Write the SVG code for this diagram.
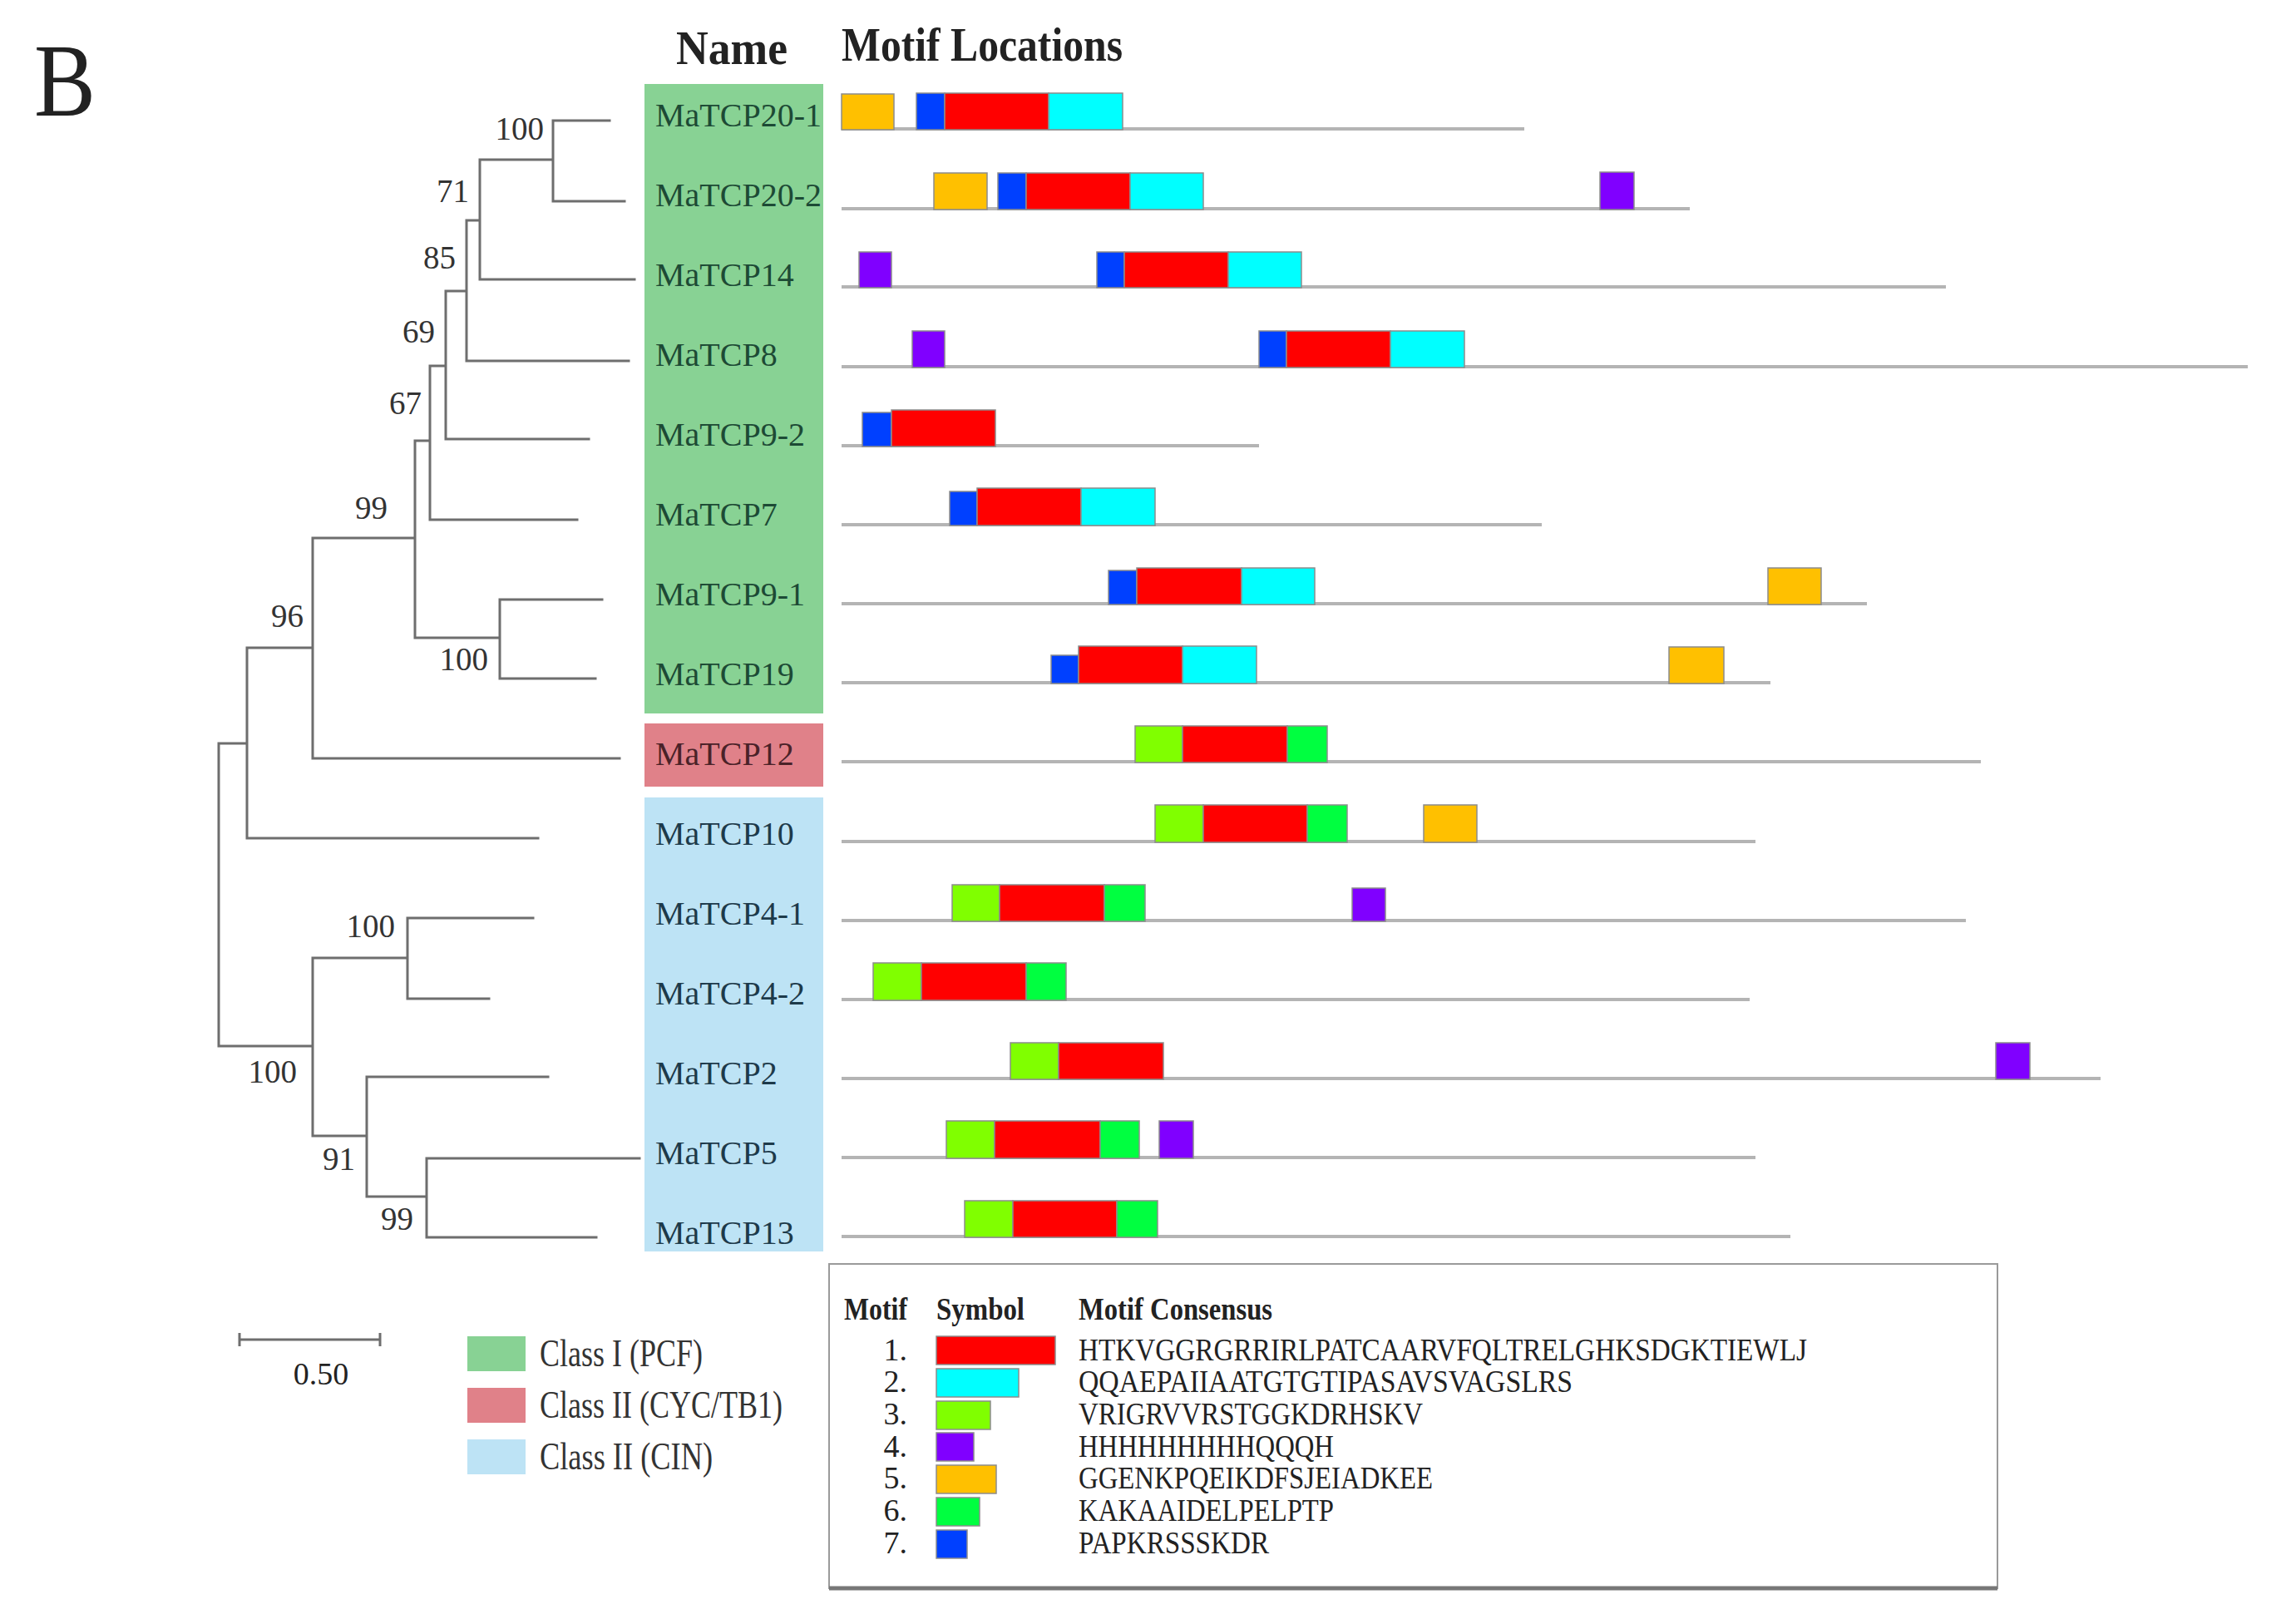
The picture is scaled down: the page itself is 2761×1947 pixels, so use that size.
<svg xmlns="http://www.w3.org/2000/svg" width="2761" height="1947" viewBox="0 0 2761 1947">
<style>
text{font-family:"Liberation Serif","Times New Roman",serif;fill:#222}
.tree{stroke:#6e6e6e;stroke-width:3;fill:none;stroke-linecap:square}
.bs{font-size:39px;text-anchor:end;fill:#333}
.nm{font-size:40px}
.ng{fill:#1d4a35}
.np{fill:#4a2228}
.nb{fill:#1d3a4a}
.trk{stroke:#b4b4b4;stroke-width:4}
.mb rect,.sym rect{stroke:#8c8c8c;stroke-width:1.5}
.m1{fill:#ff0000}.m2{fill:#00ffff}.m3{fill:#80ff00}.m4{fill:#8000ff}.m5{fill:#ffc000}.m6{fill:#00ff40}.m7{fill:#0040ff}
.hd{font-weight:bold}
.lg{font-size:38px}
.cl{font-size:46px;fill:#333}
</style>
<rect width="2761" height="1947" fill="#ffffff"/>
<text x="41" y="139" font-size="124" textLength="74" lengthAdjust="spacingAndGlyphs">B</text>
<text class="hd" x="813" y="77" font-size="56" textLength="134" lengthAdjust="spacingAndGlyphs">Name</text>
<text class="hd" x="1012" y="73" font-size="56" textLength="338" lengthAdjust="spacingAndGlyphs">Motif Locations</text>

<g id="class-boxes">
<rect x="775" y="101" width="215" height="757" fill="#88d294"/>
<rect x="775" y="870" width="215" height="76" fill="#e08189"/>
<rect x="775" y="959" width="215" height="546" fill="#bde3f5"/>
</g>

<g id="connectors">
<path class="tree" d="M665 145H733 M665 242H751 M577 336H763 M561 434H756 M536 528H708 M517 625H694 M601 721H724 M601 816H716 M376 912H745 M297 1008H647 M490 1104H641 M490 1201H588 M441 1295H659 M513 1393H769 M513 1488H717
M665 145V242 M577 192V336 M561 265V434 M536 350V528 M517 440V625 M601 721V816 M499 530V767 M376 647V912 M297 779V1008 M490 1104V1201 M513 1393V1488 M441 1295V1439 M376 1152V1366 M263 894V1258
M577 192H665 M561 265H577 M536 350H561 M517 440H536 M499 530H517 M499 767H601 M376 647H499 M297 779H376 M263 894H297 M376 1152H490 M441 1439H513 M376 1366H441 M263 1258H376"/>
<g id="bootstrap">
<text class="bs" x="654" y="168">100</text>
<text class="bs" x="564" y="243">71</text>
<text class="bs" x="548" y="323">85</text>
<text class="bs" x="523" y="412">69</text>
<text class="bs" x="507" y="498">67</text>
<text class="bs" x="466" y="624">99</text>
<text class="bs" x="365" y="754">96</text>
<text class="bs" x="587" y="806">100</text>
<text class="bs" x="475" y="1127">100</text>
<text class="bs" x="357" y="1302">100</text>
<text class="bs" x="427" y="1407">91</text>
<text class="bs" x="497" y="1479">99</text>
</g>
</g>

<g id="MaTCP20-1"><text class="nm ng" x="788" y="152">MaTCP20-1</text>
<line class="trk" x1="1012" y1="155" x2="1833" y2="155"/>
<g class="mb"><rect class="m5" x="1012" y="113" width="63" height="43"/><rect class="m7" x="1102" y="112" width="34" height="44"/><rect class="m1" x="1136" y="112" width="125" height="44"/><rect class="m2" x="1261" y="112" width="89" height="44"/></g></g>

<g id="MaTCP20-2"><text class="nm ng" x="788" y="248">MaTCP20-2</text>
<line class="trk" x1="1012" y1="251" x2="2032" y2="251"/>
<g class="mb"><rect class="m5" x="1123" y="208" width="64" height="44"/><rect class="m7" x="1200" y="208" width="34" height="44"/><rect class="m1" x="1234" y="208" width="125" height="44"/><rect class="m2" x="1359" y="208" width="88" height="44"/><rect class="m4" x="1924" y="207" width="41" height="45"/></g></g>

<g id="MaTCP14"><text class="nm ng" x="788" y="344">MaTCP14</text>
<line class="trk" x1="1012" y1="345" x2="2340" y2="345"/>
<g class="mb"><rect class="m4" x="1033" y="303" width="39" height="43"/><rect class="m7" x="1319" y="303" width="33" height="43"/><rect class="m1" x="1352" y="303" width="125" height="43"/><rect class="m2" x="1477" y="303" width="88" height="43"/></g></g>

<g id="MaTCP8"><text class="nm ng" x="788" y="440">MaTCP8</text>
<line class="trk" x1="1012" y1="441" x2="2703" y2="441"/>
<g class="mb"><rect class="m4" x="1097" y="398" width="39" height="44"/><rect class="m7" x="1514" y="398" width="33" height="44"/><rect class="m1" x="1547" y="398" width="125" height="44"/><rect class="m2" x="1672" y="398" width="89" height="44"/></g></g>

<g id="MaTCP9-2"><text class="nm ng" x="788" y="536">MaTCP9-2</text>
<line class="trk" x1="1012" y1="536" x2="1514" y2="536"/>
<g class="mb"><rect class="m7" x="1037" y="496" width="35" height="41"/><rect class="m1" x="1072" y="493" width="125" height="44"/></g></g>

<g id="MaTCP7"><text class="nm ng" x="788" y="632">MaTCP7</text>
<line class="trk" x1="1012" y1="631" x2="1854" y2="631"/>
<g class="mb"><rect class="m7" x="1142" y="591" width="33" height="41"/><rect class="m1" x="1175" y="587" width="125" height="45"/><rect class="m2" x="1300" y="587" width="89" height="45"/></g></g>

<g id="MaTCP9-1"><text class="nm ng" x="788" y="728">MaTCP9-1</text>
<line class="trk" x1="1012" y1="726" x2="2245" y2="726"/>
<g class="mb"><rect class="m7" x="1333" y="686" width="34" height="41"/><rect class="m1" x="1367" y="683" width="126" height="44"/><rect class="m2" x="1493" y="683" width="88" height="44"/><rect class="m5" x="2126" y="683" width="64" height="44"/></g></g>

<g id="MaTCP19"><text class="nm ng" x="788" y="824">MaTCP19</text>
<line class="trk" x1="1012" y1="821" x2="2129" y2="821"/>
<g class="mb"><rect class="m7" x="1264" y="788" width="33" height="34"/><rect class="m1" x="1297" y="777" width="125" height="45"/><rect class="m2" x="1422" y="777" width="89" height="45"/><rect class="m5" x="2007" y="778" width="66" height="44"/></g></g>

<g id="MaTCP12"><text class="nm np" x="788" y="920">MaTCP12</text>
<line class="trk" x1="1012" y1="916" x2="2382" y2="916"/>
<g class="mb"><rect class="m3" x="1365" y="873" width="57" height="44"/><rect class="m1" x="1422" y="873" width="126" height="44"/><rect class="m6" x="1548" y="873" width="48" height="44"/></g></g>

<g id="MaTCP10"><text class="nm nb" x="788" y="1016">MaTCP10</text>
<line class="trk" x1="1012" y1="1012" x2="2111" y2="1012"/>
<g class="mb"><rect class="m3" x="1389" y="968" width="58" height="45"/><rect class="m1" x="1447" y="968" width="125" height="45"/><rect class="m6" x="1572" y="968" width="48" height="45"/><rect class="m5" x="1712" y="968" width="64" height="45"/></g></g>

<g id="MaTCP4-1"><text class="nm nb" x="788" y="1112">MaTCP4-1</text>
<line class="trk" x1="1012" y1="1107" x2="2364" y2="1107"/>
<g class="mb"><rect class="m3" x="1145" y="1064" width="57" height="44"/><rect class="m1" x="1202" y="1064" width="126" height="44"/><rect class="m6" x="1328" y="1064" width="49" height="44"/><rect class="m4" x="1626" y="1068" width="40" height="40"/></g></g>

<g id="MaTCP4-2"><text class="nm nb" x="788" y="1208">MaTCP4-2</text>
<line class="trk" x1="1012" y1="1202" x2="2104" y2="1202"/>
<g class="mb"><rect class="m3" x="1050" y="1158" width="58" height="45"/><rect class="m1" x="1108" y="1158" width="126" height="45"/><rect class="m6" x="1234" y="1158" width="48" height="45"/></g></g>

<g id="MaTCP2"><text class="nm nb" x="788" y="1304">MaTCP2</text>
<line class="trk" x1="1012" y1="1297" x2="2526" y2="1297"/>
<g class="mb"><rect class="m3" x="1215" y="1254" width="58" height="44"/><rect class="m1" x="1273" y="1254" width="126" height="44"/><rect class="m4" x="2400" y="1254" width="41" height="44"/></g></g>

<g id="MaTCP5"><text class="nm nb" x="788" y="1400">MaTCP5</text>
<line class="trk" x1="1012" y1="1392" x2="2111" y2="1392"/>
<g class="mb"><rect class="m3" x="1138" y="1348" width="58" height="45"/><rect class="m1" x="1196" y="1348" width="127" height="45"/><rect class="m6" x="1323" y="1348" width="47" height="45"/><rect class="m4" x="1394" y="1348" width="41" height="45"/></g></g>

<g id="MaTCP13"><text class="nm nb" x="788" y="1496">MaTCP13</text>
<line class="trk" x1="1012" y1="1487" x2="2153" y2="1487"/>
<g class="mb"><rect class="m3" x="1160" y="1444" width="58" height="44"/><rect class="m1" x="1218" y="1444" width="125" height="44"/><rect class="m6" x="1343" y="1444" width="49" height="44"/></g></g>

<g id="scale-bar">
<path d="M288 1611H457 M288 1603V1619 M457 1603V1619" stroke="#6e6e6e" stroke-width="3" fill="none"/>
<text x="386" y="1665" font-size="38" text-anchor="middle" fill="#333">0.50</text>
</g>

<g id="class-legend">
<rect x="562" y="1607" width="70" height="42" fill="#88d294"/>
<rect x="562" y="1669" width="70" height="42" fill="#e08189"/>
<rect x="562" y="1731" width="70" height="42" fill="#bde3f5"/>
<text class="cl" x="649" y="1643" textLength="196" lengthAdjust="spacingAndGlyphs">Class I (PCF)</text>
<text class="cl" x="649" y="1705" textLength="292" lengthAdjust="spacingAndGlyphs">Class II (CYC/TB1)</text>
<text class="cl" x="649" y="1767" textLength="208" lengthAdjust="spacingAndGlyphs">Class II (CIN)</text>
</g>

<g id="motif-legend">
<rect x="997" y="1520" width="1405" height="390" fill="#ffffff" stroke="#9a9a9a" stroke-width="2"/>
<line x1="997" y1="1910" x2="2402" y2="1910" stroke="#777" stroke-width="5"/>
<text class="hd lg" x="1015" y="1587" textLength="76" lengthAdjust="spacingAndGlyphs">Motif</text>
<text class="hd lg" x="1126" y="1587" textLength="106" lengthAdjust="spacingAndGlyphs">Symbol</text>
<text class="hd lg" x="1297" y="1587" textLength="233" lengthAdjust="spacingAndGlyphs">Motif Consensus</text>
<g class="lg" text-anchor="end">
<text x="1091" y="1636">1.</text><text x="1091" y="1674">2.</text><text x="1091" y="1713">3.</text><text x="1091" y="1752">4.</text><text x="1091" y="1790">5.</text><text x="1091" y="1829">6.</text><text x="1091" y="1868">7.</text>
</g>
<g class="sym">
<rect class="m1" x="1126" y="1607" width="143" height="34"/>
<rect class="m2" x="1126" y="1646" width="99" height="34"/>
<rect class="m3" x="1126" y="1685" width="65" height="34"/>
<rect class="m4" x="1126" y="1723" width="45" height="34"/>
<rect class="m5" x="1126" y="1762" width="72" height="34"/>
<rect class="m6" x="1126" y="1801" width="52" height="34"/>
<rect class="m7" x="1126" y="1840" width="37" height="34"/>
</g>
<g class="lg">
<text x="1297" y="1636" textLength="876" lengthAdjust="spacingAndGlyphs">HTKVGGRGRRIRLPATCAARVFQLTRELGHKSDGKTIEWLJ</text>
<text x="1297" y="1674" textLength="594" lengthAdjust="spacingAndGlyphs">QQAEPAIIAATGTGTIPASAVSVAGSLRS</text>
<text x="1297" y="1713" textLength="414" lengthAdjust="spacingAndGlyphs">VRIGRVVRSTGGKDRHSKV</text>
<text x="1297" y="1752" textLength="307" lengthAdjust="spacingAndGlyphs">HHHHHHHHHQQQH</text>
<text x="1297" y="1790" textLength="426" lengthAdjust="spacingAndGlyphs">GGENKPQEIKDFSJEIADKEE</text>
<text x="1297" y="1829" textLength="307" lengthAdjust="spacingAndGlyphs">KAKAAIDELPELPTP</text>
<text x="1297" y="1868" textLength="229" lengthAdjust="spacingAndGlyphs">PAPKRSSSKDR</text>
</g>
</g>
</svg>
